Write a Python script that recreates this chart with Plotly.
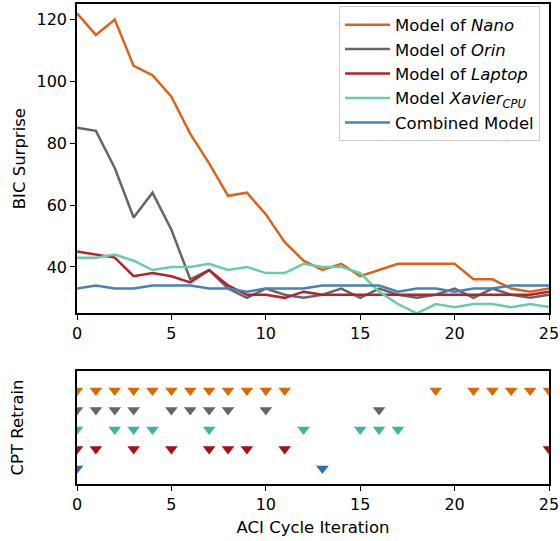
import plotly.graph_objects as go

iterations = list(range(26))

nano = [122, 115, 120, 105, 102, 95, 83, 73.5, 63, 64, 57, 48, 42, 39, 41, 37, 39, 41, 41, 41, 41, 36, 36, 33, 32, 33]
orin = [85, 84, 72, 56, 64, 52, 36, 39, 33, 30, 33, 31, 30, 31, 33, 30, 33, 31, 30, 31, 33, 30, 33, 31, 30, 31]
laptop = [45, 44, 43, 37, 38, 37, 35, 39, 34, 31, 31, 30, 32, 31, 31, 31, 31, 31, 31, 31, 31, 31, 31, 31, 31, 32]
xavier = [43, 43, 44, 42, 39, 40, 40, 41, 39, 40, 38, 38, 41, 40, 40, 38, 32, 28, 25, 28, 27, 28, 28, 27, 28, 27]
combined = [33, 34, 33, 33, 34, 34, 34, 33, 33, 32, 33, 33, 33, 34, 34, 34, 34, 32, 33, 33, 32, 33, 33, 34, 34, 34]

retrain_nano = [0, 1, 2, 3, 4, 5, 6, 7, 8, 9, 10, 11, 19, 21, 22, 23, 24, 25]
retrain_orin = [0, 1, 2, 3, 5, 6, 7, 8, 10, 16]
retrain_xavier = [0, 2, 3, 4, 7, 12, 15, 16, 17]
retrain_laptop = [0, 1, 3, 5, 7, 8, 9, 11, 25]
retrain_combined = [0, 13]

series = [
    ("Model of <i>Nano</i>", nano, retrain_nano, 5, "#d9651a", "#d96a00"),
    ("Model of <i>Orin</i>", orin, retrain_orin, 4, "#666666", "#666666"),
    ("Model of <i>Laptop</i>", laptop, retrain_laptop, 2, "#b8202a", "#a50f15"),
    ("Model <i>Xavier<sub>CPU</sub></i>", xavier, retrain_xavier, 3, "#66cdaa", "#3cb59f"),
    ("Combined Model", combined, retrain_combined, 1, "#4682b4", "#2a6fb0"),
]

fig = go.Figure()
for name, vals, retr, row, lc, mc in series:
    fig.add_trace(go.Scatter(x=iterations, y=vals, mode="lines", name=name,
                             line=dict(color=lc, width=2.5), xaxis="x", yaxis="y"))
for name, vals, retr, row, lc, mc in series:
    fig.add_trace(go.Scatter(x=retr, y=[row] * len(retr), mode="markers", showlegend=False,
                             marker=dict(symbol="triangle-down", size=11, color=mc),
                             xaxis="x2", yaxis="y2"))

FS = 16.5
TFS = 16
font = dict(family="DejaVu Sans", size=FS, color="black")
axcommon = dict(showline=True, linecolor="black", linewidth=1.5, mirror=True, automargin=False,
                showgrid=False, zeroline=False, ticks="outside", ticklen=5, tickwidth=1.3,
                tickcolor="black", tickfont=dict(family="DejaVu Sans", size=TFS, color="black"))

fig.update_layout(
    width=560, height=541,
    margin=dict(l=77, r=11, t=4, b=57),
    plot_bgcolor="white", paper_bgcolor="white",
    font=font,
    xaxis=dict(domain=[0, 1], range=[0, 25], tickvals=[0, 5, 10, 15, 20, 25], anchor="y", **axcommon),
    yaxis=dict(domain=[0.3556, 1], range=[25, 125], tickvals=[40, 60, 80, 100, 120], anchor="x",
               title=dict(text="BIC Surprise", standoff=7, font=font), **axcommon),
    xaxis2=dict(domain=[0, 1], range=[0, 25], tickvals=[0, 5, 10, 15, 20, 25], anchor="y2",
                title=dict(text="ACI Cycle Iteration", standoff=8, font=font), **axcommon),
    yaxis2=dict(domain=[0, 0.2354], range=[0.2, 6.0], anchor="x2", showline=True, linecolor="black",
                linewidth=1.5, mirror=True, showgrid=False, zeroline=False, showticklabels=False,
                automargin=False,
                ticks="", title=dict(text="CPT Retrain", standoff=47, font=font)),
    legend=dict(x=0.981, y=0.995, xanchor="right", yanchor="top", bgcolor="white", itemwidth=45,
                bordercolor="#cccccc", borderwidth=1, font=dict(family="DejaVu Sans", size=FS, color="black")),
)

fig.write_html("out.html", config={"displayModeBar": False},
               post_script="document.body.style.margin='0';document.body.style.overflow='hidden';")
